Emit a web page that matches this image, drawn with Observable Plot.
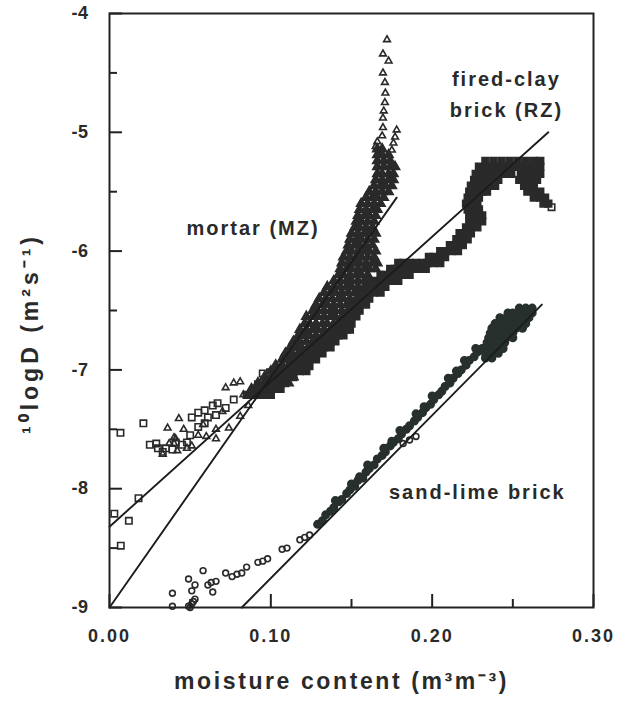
<!DOCTYPE html>
<html>
<head>
<meta charset="utf-8">
<script src="https://cdn.jsdelivr.net/npm/d3@7"></script>
<script src="https://cdn.jsdelivr.net/npm/@observablehq/plot@0.6"></script>
<style>
  body { margin: 0; background: #fff; }
  #wrap { position: relative; width: 632px; height: 712px; overflow: hidden; background: #fff; }
  #chart { position: absolute; left: 0; top: 0; }
  #chart svg text { font-family: "Liberation Sans", Arial, Helvetica, sans-serif; font-weight: bold; fill: #2a2a2a; }
  #leftpanel { position: absolute; left: 2px; top: 0; width: 2px; height: 607px; background: #333; }
  #leftlabel { position: absolute; left: 4px; top: 626px; font: bold 18px "Liberation Sans", Arial, sans-serif; color: #2a2a2a; letter-spacing: 2px; }
</style>
</head>
<body>
<div id="wrap">
  <div id="leftpanel"></div>
  <div id="leftlabel">.0</div>
  <div id="chart"></div>
</div>
<script>
// ---------- axes ----------
const xTicks = [0, 0.1, 0.2, 0.3];
const xMinor = [0.05, 0.15, 0.25];
const yTicks = [-9, -8, -7, -6, -5, -4];
const yMinor = [-8.5, -7.5, -6.5, -5.5, -4.5];

// ---------- fitted lines ----------
const fitMortar = [[0, -9.0], [0.178, -5.55]];
const fitClay = [[0, -8.32], [0.272, -5.0]];
const fitSand = [[0.082, -9.0], [0.268, -6.45]];

// ---------- mortar (MZ), triangles ----------
const mortarSparse = [
  [0.036,-7.49],[0.043,-7.41],[0.033,-7.71],[0.040,-7.57],[0.046,-7.50],[0.051,-7.64],
  [0.055,-7.55],[0.060,-7.56],[0.066,-7.58],[0.066,-7.50],[0.074,-7.49],[0.083,-7.21],
  [0.081,-7.39],[0.072,-7.15],[0.077,-7.11],[0.081,-7.10],[0.037,-7.62],[0.042,-7.68],
  [0.048,-7.66],[0.058,-7.46],[0.070,-7.35],[0.086,-7.30],[0.040,-7.62],[0.041,-7.58],
  [0.172,-4.22],[0.1695,-4.34],[0.173,-4.40],[0.1695,-4.50],[0.1707,-4.58],[0.171,-4.67],
  [0.1707,-4.75],[0.170,-4.82],[0.1695,-4.88],[0.1695,-4.96],[0.169,-5.03],[0.166,-5.08],
  [0.178,-4.98],[0.177,-5.04],[0.176,-5.09],[0.175,-5.15],[0.165,-5.12],[0.167,-5.18]
];
const mortarRows = [
  [-7.16,[.088,.092,.096,.100,.103]],
  [-7.11,[.092,.096,.100,.103,.107,.111]],
  [-7.06,[.096,.100,.103,.107,.111,.114]],
  [-7.01,[.100,.103,.107,.111,.114,.118]],
  [-6.96,[.103,.107,.111,.114,.118,.122]],
  [-6.91,[.107,.111,.114,.118,.122,.126]],
  [-6.86,[.109,.113,.117,.121,.124,.128]],
  [-6.81,[.112,.116,.119,.123,.127,.130]],
  [-6.76,[.114,.118,.122,.126,.129,.133]],
  [-6.71,[.117,.121,.124,.128,.132,.135]],
  [-6.66,[.118,.122,.126,.129,.133,.137,.140]],
  [-6.61,[.121,.124,.128,.132,.135,.139,.143]],
  [-6.55,[.122,.126,.129,.133,.137,.140,.144,.148]],
  [-6.50,[.126,.129,.133,.137,.140,.144,.148,.152]],
  [-6.45,[.128,.132,.135,.139,.143,.147,.150]],
  [-6.40,[.130,.134,.138,.142,.145,.149,.153]],
  [-6.35,[.133,.137,.140,.144,.148,.152,.155]],
  [-6.30,[.135,.139,.143,.147,.150,.154,.158]],
  [-6.25,[.139,.143,.147,.150,.154,.158,.161]],
  [-6.20,[.142,.145,.149,.153,.156,.160]],
  [-6.15,[.143,.147,.150,.154,.158,.161,.165]],
  [-6.10,[.144,.148,.152,.155,.159,.163,.166]],
  [-6.05,[.145,.149,.153,.156,.160,.164]],
  [-6.00,[.147,.150,.154,.158,.161,.165]],
  [-5.95,[.148,.152,.155,.159,.163]],
  [-5.90,[.149,.153,.156,.160,.164]],
  [-5.85,[.150,.154,.158,.161,.165]],
  [-5.80,[.152,.155,.159,.163]],
  [-5.75,[.153,.156,.160,.164]],
  [-5.70,[.154,.158,.161,.165]],
  [-5.65,[.155,.159,.163,.166]],
  [-5.60,[.156,.160,.164,.168]],
  [-5.55,[.159,.163,.166,.170]],
  [-5.50,[.161,.165,.169,.173]],
  [-5.45,[.164,.168,.171,.175]],
  [-5.40,[.165,.169,.173,.176]],
  [-5.35,[.166,.169,.173,.176]],
  [-5.29,[.166,.170,.174,.177]],
  [-5.24,[.166,.170,.174]],
  [-5.19,[.166,.169,.173]],
  [-5.14,[.166,.169]]
];

// ---------- fired-clay brick (RZ), squares ----------
const claySparse = [
  [0.0068,-7.53],[0.021,-7.45],[0.018,-8.08],[0.003,-8.21],[0.012,-8.27],[0.007,-8.48],
  [0.025,-7.63],[0.030,-7.66],[0.035,-7.66],[0.039,-7.67],[0.041,-7.61],[0.045,-7.63],
  [0.048,-7.61],[0.051,-7.40],[0.055,-7.36],[0.059,-7.34],[0.064,-7.30],[0.067,-7.28],
  [0.072,-7.32],[0.066,-7.38],[0.061,-7.40],[0.050,-7.55],[0.055,-7.48],[0.059,-7.45],
  [0.077,-7.25],[0.092,-7.12],[0.095,-7.03],[0.0995,-7.02],[0.124,-6.97],[0.142,-6.66],
  [0.029,-7.62],[0.033,-7.69],[0.274,-5.63]
];
const clayRows = [
  [-7.21,[.085,.088,.092,.096,.100]],
  [-7.16,[.095,.098,.102,.106]],
  [-7.11,[.098,.102,.106,.109]],
  [-7.06,[.103,.107,.111,.114]],
  [-7.01,[.107,.111,.114,.118,.122]],
  [-6.96,[.112,.116,.119,.123]],
  [-6.91,[.117,.121,.124,.128]],
  [-6.86,[.121,.124,.128,.132]],
  [-6.81,[.126,.129,.133,.137]],
  [-6.76,[.129,.133,.137,.140]],
  [-6.71,[.134,.138,.142,.145]],
  [-6.66,[.139,.143,.147,.149]],
  [-6.61,[.143,.147,.150]],
  [-6.55,[.147,.150,.153]],
  [-6.50,[.149,.153,.155]],
  [-6.45,[.152,.155,.159]],
  [-6.40,[.154,.158,.161]],
  [-6.35,[.156,.160,.164,.168]],
  [-6.30,[.160,.164,.168,.171]],
  [-6.25,[.164,.168,.171,.175,.179]],
  [-6.20,[.168,.171,.175,.179,.182,.186]],
  [-6.15,[.174,.177,.181,.185,.189,.192,.196]],
  [-6.10,[.179,.182,.186,.190,.194,.197,.201,.205]],
  [-6.05,[.198,.201,.205,.208]],
  [-6.00,[.205,.208,.212,.216]],
  [-5.95,[.211,.215,.219]],
  [-5.90,[.215,.218,.222]],
  [-5.85,[.217,.221,.224]],
  [-5.80,[.221,.224,.228]],
  [-5.75,[.223,.227,.231]],
  [-5.70,[.223,.227,.231]],
  [-5.65,[.222,.226,.229]],
  [-5.60,[.221,.224,.228,.269,.272]],
  [-5.55,[.222,.226,.229,.263,.267,.270]],
  [-5.50,[.223,.227,.231,.234,.259,.263,.267]],
  [-5.45,[.224,.228,.232,.236,.239,.257,.260,.263]],
  [-5.40,[.226,.229,.233,.237,.241,.254,.258,.262,.265]],
  [-5.35,[.227,.231,.234,.238,.242,.246,.249,.255,.259,.263,.267]],
  [-5.29,[.229,.233,.237,.241,.244,.248,.252,.255,.259,.263,.267]],
  [-5.24,[.233,.238,.243,.248,.253,.258,.263,.267]]
];

// ---------- sand-lime brick, circles ----------
const sandSparse = [
  [0.039,-8.88],[0.049,-8.76],[0.053,-8.81],[0.051,-8.86],[0.058,-8.69],[0.061,-8.81],
  [0.064,-8.87],[0.063,-8.79],[0.066,-8.78],[0.072,-8.71],[0.076,-8.74],[0.079,-8.72],
  [0.082,-8.71],[0.085,-8.66],[0.092,-8.62],[0.095,-8.61],[0.098,-8.59],[0.107,-8.51],
  [0.110,-8.50],[0.118,-8.43],[0.121,-8.41],[0.124,-8.39],[0.039,-8.99],[0.049,-8.99],
  [0.051,-8.97],[0.052,-8.95],[0.053,-8.93],[0.050,-9.0],[0.182,-7.62],[0.186,-7.59],
  [0.190,-7.56]
];
const sandBand = [
  [0.129,-8.30],[0.132,-8.27],[0.134,-8.22],[0.137,-8.19],[0.139,-8.16],[0.142,-8.11],
  [0.144,-8.09],[0.147,-8.04],[0.149,-8.01],[0.152,-7.98],[0.154,-7.93],[0.157,-7.91],
  [0.159,-7.86],[0.161,-7.83],[0.164,-7.80],[0.166,-7.75],[0.169,-7.72],[0.171,-7.69],
  [0.174,-7.64],[0.176,-7.61],[0.179,-7.58],[0.181,-7.54],[0.184,-7.50],[0.186,-7.47],
  [0.189,-7.43],[0.191,-7.40],[0.194,-7.36],[0.196,-7.32],[0.199,-7.29],[0.201,-7.25],
  [0.204,-7.21],[0.206,-7.18],[0.208,-7.14],[0.211,-7.11],[0.213,-7.07],[0.216,-7.03],
  [0.218,-7.00],[0.221,-6.96],[0.223,-6.92],[0.226,-6.89],[0.228,-6.85],[0.231,-6.82],
  [0.140,-8.10],[0.150,-7.96],[0.160,-7.80],[0.170,-7.66],[0.180,-7.51],[0.190,-7.37],
  [0.200,-7.22],[0.210,-7.07],[0.220,-6.92],[0.227,-6.82],[0.155,-7.90],[0.175,-7.60],
  [0.195,-7.31],[0.215,-7.01]
];
const sandRows = [
  [-6.48,[.254,.258,.262]],
  [-6.52,[.247,.250,.254,.258,.262]],
  [-6.56,[.242,.246,.249,.253,.257,.260]],
  [-6.61,[.239,.243,.247,.250,.254,.258]],
  [-6.65,[.237,.241,.245,.249,.252,.256]],
  [-6.69,[.236,.239,.243,.247,.250]],
  [-6.73,[.235,.239,.242,.246,.250]],
  [-6.77,[.234,.237,.241,.245]],
  [-6.82,[.233,.237,.241,.244]],
  [-6.86,[.233,.237,.241]],
  [-6.90,[.233,.237]]
];

// ---------- text ----------
const annotations = [
  {text: "mortar (MZ)", x: 0.089, y: -5.81},
  {text: "fired-clay", x: 0.246, y: -4.56},
  {text: "brick (RZ)", x: 0.246, y: -4.82},
  {text: "sand-lime brick", x: 0.228, y: -8.03}
];
const xTitle = "moisture content (m³m⁻³)";
const yTitle = "¹⁰logD (m²s⁻¹)";

// ---------- build ----------
const rowsToPoints = rows => rows.flatMap(([y, xs]) => xs.map(x => [x, y]));
const mortarDense = rowsToPoints(mortarRows);
const clayDense = rowsToPoints(clayRows);
const sandDense = sandBand.concat(rowsToPoints(sandRows));

const W = 632, H = 712, mL = 109, mR = 39, mT = 13, mB = 105;
const xPerPx = 0.3 / (W - mL - mR);
const yPerPx = 5 / (H - mT - mB);
const ink = "#2a2a2a";
const sandInk = "#27302c";

const P = {x: d => d[0], y: d => d[1]};
const hollow = {...P, fill: "none", stroke: ink, strokeWidth: 1.6};
const solid = {...P, fill: ink, stroke: ink, strokeWidth: 1.6};
const lineOpts = {...P, stroke: "#1c1c1c", strokeWidth: 1.9};

const chart = Plot.plot({
  width: W, height: H,
  marginLeft: mL, marginRight: mR, marginTop: mT, marginBottom: mB,
  x: {domain: [0, 0.3], axis: null},
  y: {domain: [-9, -4], axis: null},
  style: {background: "white", overflow: "visible"},
  marks: [
    Plot.dot(sandDense, {...solid, symbol: "circle", r: 3.7, fill: sandInk, stroke: sandInk}),
    Plot.dot(sandSparse, {...hollow, symbol: "circle", r: 2.9}),
    Plot.dot(clayDense, {...solid, symbol: "square", r: 3.8}),
    Plot.dot(claySparse, {...hollow, symbol: "square", r: 3.6}),
    Plot.dot(mortarDense, {...solid, symbol: "triangle", r: 3.4}),
    Plot.dot(mortarSparse, {...hollow, symbol: "triangle", r: 2.5}),
    Plot.line(fitMortar, lineOpts),
    Plot.line(fitClay, lineOpts),
    Plot.line(fitSand, lineOpts),
    Plot.frame({stroke: "#222", strokeWidth: 2}),
    Plot.ruleX(xTicks, {x: d => d, y1: -9, y2: -9 + 13 * yPerPx, stroke: "#222", strokeWidth: 2}),
    Plot.ruleX(xMinor, {x: d => d, y1: -9, y2: -9 + 8 * yPerPx, stroke: "#222", strokeWidth: 2}),
    Plot.ruleY(yTicks, {y: d => d, x1: 0, x2: 13 * xPerPx, stroke: "#222", strokeWidth: 2}),
    Plot.ruleY(yMinor, {y: d => d, x1: 0, x2: 8 * xPerPx, stroke: "#222", strokeWidth: 2}),
    Plot.text(xTicks, {x: d => d, frameAnchor: "bottom", lineAnchor: "middle", dy: 29, text: d => d.toFixed(2), fontSize: 18}),
    Plot.text(yTicks, {y: d => d, frameAnchor: "left", textAnchor: "end", lineAnchor: "middle", dx: -21, text: d => String(d), fontSize: 18}),
    Plot.text(annotations, {x: "x", y: "y", text: "text", fontSize: 20}),
    Plot.text([xTitle], {frameAnchor: "bottom", textAnchor: "middle", lineAnchor: "middle", dx: -10, dy: 74, text: d => d, fontSize: 23}),
    Plot.text([yTitle], {frameAnchor: "left", textAnchor: "middle", lineAnchor: "middle", dx: -79, dy: 23, rotate: -90, text: d => d, fontSize: 23})
  ]
});
document.getElementById("chart").appendChild(chart);

// letter spacing, matched by text content
const spacing = new Map([
  ...annotations.map(a => [a.text, "2px"]),
  ...xTicks.map(t => [t.toFixed(2), "2px"]),
  ...yTicks.map(t => [String(t), "0.5px"]),
  [xTitle, "2.6px"],
  [yTitle, "4px"]
]);
d3.select(chart).selectAll("text").each(function() {
  const s = spacing.get(this.textContent);
  if (s) this.style.letterSpacing = s;
});
</script>
</body>
</html>
